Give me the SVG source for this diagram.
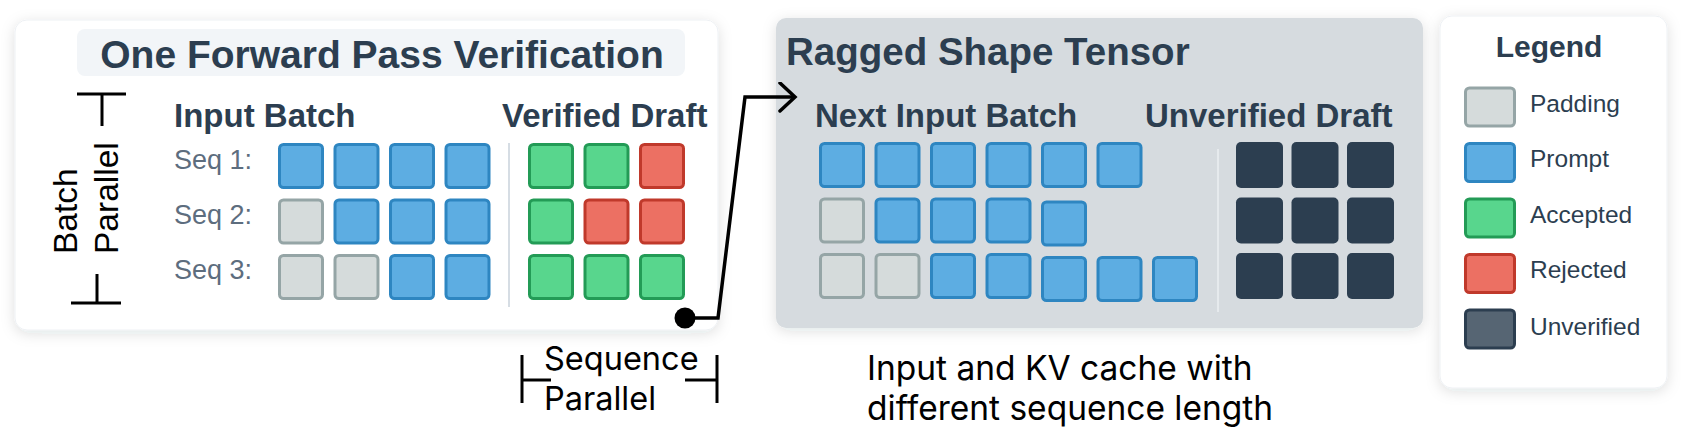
<svg xmlns="http://www.w3.org/2000/svg" width="1681" height="429" viewBox="0 0 1681 429">
<defs>
<filter id="sh" x="-10%" y="-10%" width="120%" height="130%">
<feDropShadow dx="0" dy="3" stdDeviation="7" flood-color="#1c2833" flood-opacity="0.13"/>
</filter>
<marker id="arr" markerUnits="userSpaceOnUse" markerWidth="22" markerHeight="34" refX="17" refY="15" orient="auto" viewBox="0 0 22 34">
<path d="M2,1 L17,15 L2,29" fill="none" stroke="#000" stroke-width="3.5" stroke-linecap="round" stroke-linejoin="miter"/>
</marker>
</defs>
<style>
.t{font-family:"Liberation Sans",Arial,sans-serif;fill:#2c3e50}
.b{font-weight:bold}
.seq{font-family:"Liberation Sans",Arial,sans-serif;fill:#5d6d7e;font-size:27px}
.lg{font-family:"Liberation Sans",Arial,sans-serif;fill:#2c3e50;font-size:24.5px}
.ann{font-family:Inter,"Liberation Sans",sans-serif;fill:#000;font-size:32.5px}
.cap{font-family:Inter,"Liberation Sans",sans-serif;fill:#000;font-size:33.5px}
.vt{font-family:"Liberation Sans",Arial,sans-serif;fill:#000;font-size:33.5px}
.pad{fill:#d5dbdb;stroke:#95a5a6;stroke-width:3}
.pr{fill:#5dade2;stroke:#2e86c1;stroke-width:3}
.ac{fill:#58d68d;stroke:#239b56;stroke-width:3}
.rj{fill:#ec7063;stroke:#c0392b;stroke-width:3}
.uv{fill:#2c3e50}
.uvl{fill:#566573;stroke:#2c3e50;stroke-width:3}
.ln{stroke:#000;stroke-width:3;fill:none}
</style>

<g id="panel-verification">
<rect x="15" y="20" width="703" height="310" rx="12" fill="#ffffff" stroke="#eef1f4" stroke-width="1" filter="url(#sh)"/>
<rect x="77" y="29" width="608" height="47" rx="8" fill="#f2f5f8"/>
<text class="t b" x="382" y="68" font-size="39" text-anchor="middle">One Forward Pass Verification</text>
<text class="t b" x="174" y="127" font-size="33">Input Batch</text>
<text class="t b" x="502" y="127" font-size="33">Verified Draft</text>
<text class="seq" x="174" y="169">Seq 1:</text>
<text class="seq" x="174" y="224">Seq 2:</text>
<text class="seq" x="174" y="279">Seq 3:</text>
<line x1="509" y1="143" x2="509" y2="307" stroke="#d6dde4" stroke-width="2"/>
<g id="input-batch">
<rect class="pr" x="279.5" y="144.5" width="43" height="43" rx="4"/>
<rect class="pr" x="335" y="144.5" width="43" height="43" rx="4"/>
<rect class="pr" x="390.5" y="144.5" width="43" height="43" rx="4"/>
<rect class="pr" x="446" y="144.5" width="43" height="43" rx="4"/>
<rect class="pad" x="279.5" y="200" width="43" height="43" rx="4"/>
<rect class="pr" x="335" y="200" width="43" height="43" rx="4"/>
<rect class="pr" x="390.5" y="200" width="43" height="43" rx="4"/>
<rect class="pr" x="446" y="200" width="43" height="43" rx="4"/>
<rect class="pad" x="279.5" y="255.5" width="43" height="43" rx="4"/>
<rect class="pad" x="335" y="255.5" width="43" height="43" rx="4"/>
<rect class="pr" x="390.5" y="255.5" width="43" height="43" rx="4"/>
<rect class="pr" x="446" y="255.5" width="43" height="43" rx="4"/>
</g>
<g id="verified-draft">
<rect class="ac" x="529.5" y="144.5" width="43" height="43" rx="4"/>
<rect class="ac" x="585" y="144.5" width="43" height="43" rx="4"/>
<rect class="rj" x="640.5" y="144.5" width="43" height="43" rx="4"/>
<rect class="ac" x="529.5" y="200" width="43" height="43" rx="4"/>
<rect class="rj" x="585" y="200" width="43" height="43" rx="4"/>
<rect class="rj" x="640.5" y="200" width="43" height="43" rx="4"/>
<rect class="ac" x="529.5" y="255.5" width="43" height="43" rx="4"/>
<rect class="ac" x="585" y="255.5" width="43" height="43" rx="4"/>
<rect class="ac" x="640.5" y="255.5" width="43" height="43" rx="4"/>
</g>
</g>

<g id="panel-ragged">
<rect x="776" y="18" width="647" height="310" rx="10" fill="#d6dbdf" filter="url(#sh)"/>
<text class="t b" x="786" y="65" font-size="38.5">Ragged Shape Tensor</text>
<text class="t b" x="815" y="127" font-size="33">Next Input Batch</text>
<text class="t b" x="1145" y="127" font-size="33">Unverified Draft</text>
<line x1="1218" y1="149" x2="1218" y2="312" stroke="#e6eaed" stroke-width="2"/>
<g id="next-input-batch">
<rect class="pr" x="820.5" y="143.5" width="43" height="43" rx="4"/>
<rect class="pr" x="876" y="143.5" width="43" height="43" rx="4"/>
<rect class="pr" x="931.5" y="143.5" width="43" height="43" rx="4"/>
<rect class="pr" x="987" y="143.5" width="43" height="43" rx="4"/>
<rect class="pr" x="1042.5" y="143.5" width="43" height="43" rx="4"/>
<rect class="pr" x="1098" y="143.5" width="43" height="43" rx="4"/>
<rect class="pad" x="820.5" y="199" width="43" height="43" rx="4" fill="#d8dcdf"/>
<rect class="pr" x="876" y="199" width="43" height="43" rx="4"/>
<rect class="pr" x="931.5" y="199" width="43" height="43" rx="4"/>
<rect class="pr" x="987" y="199" width="43" height="43" rx="4"/>
<rect class="pr" x="1042.5" y="202" width="43" height="43" rx="4"/>
<rect class="pad" x="820.5" y="254.5" width="43" height="43" rx="4"/>
<rect class="pad" x="876" y="254.5" width="43" height="43" rx="4"/>
<rect class="pr" x="931.5" y="254.5" width="43" height="43" rx="4"/>
<rect class="pr" x="987" y="254.5" width="43" height="43" rx="4"/>
<rect class="pr" x="1042.5" y="257.5" width="43" height="43" rx="4"/>
<rect class="pr" x="1098" y="257.5" width="43" height="43" rx="4"/>
<rect class="pr" x="1153.5" y="257.5" width="43" height="43" rx="4"/>
</g>
<g id="unverified-draft">
<rect class="uv" x="1236" y="142" width="47" height="46" rx="5"/>
<rect class="uv" x="1291.5" y="142" width="47" height="46" rx="5"/>
<rect class="uv" x="1347" y="142" width="47" height="46" rx="5"/>
<rect class="uv" x="1236" y="197.5" width="47" height="46" rx="5"/>
<rect class="uv" x="1291.5" y="197.5" width="47" height="46" rx="5"/>
<rect class="uv" x="1347" y="197.5" width="47" height="46" rx="5"/>
<rect class="uv" x="1236" y="253" width="47" height="46" rx="5"/>
<rect class="uv" x="1291.5" y="253" width="47" height="46" rx="5"/>
<rect class="uv" x="1347" y="253" width="47" height="46" rx="5"/>
</g>
</g>

<g id="legend">
<rect x="1440" y="16" width="227" height="372" rx="12" fill="#ffffff" stroke="#eef1f4" stroke-width="1" filter="url(#sh)"/>
<text class="t b" x="1549" y="57" font-size="30" text-anchor="middle">Legend</text>
<rect class="pad" x="1465.5" y="88" width="49" height="38" rx="4"/>
<text class="lg" x="1530" y="112">Padding</text>
<rect class="pr" x="1465.5" y="143.5" width="49" height="38" rx="4"/>
<text class="lg" x="1530" y="167">Prompt</text>
<rect class="ac" x="1465.5" y="199" width="49" height="38" rx="4"/>
<text class="lg" x="1530" y="223">Accepted</text>
<rect class="rj" x="1465.5" y="254.5" width="49" height="38" rx="4"/>
<text class="lg" x="1530" y="278">Rejected</text>
<rect class="uvl" x="1465.5" y="310" width="49" height="38" rx="4"/>
<text class="lg" x="1530" y="335">Unverified</text>
</g>

<g id="batch-parallel">
<line class="ln" x1="77" y1="94" x2="126" y2="94"/>
<line class="ln" x1="102" y1="94" x2="102" y2="126"/>
<line class="ln" x1="71" y1="303" x2="121" y2="303"/>
<line class="ln" x1="97" y1="274" x2="97" y2="303"/>
<text class="vt" transform="translate(77,254) rotate(-90)">Batch</text>
<text class="vt" transform="translate(118,254) rotate(-90)">Parallel</text>
</g>

<g id="sequence-parallel">
<line class="ln" x1="522" y1="355" x2="522" y2="403"/>
<line class="ln" x1="522" y1="380" x2="551" y2="380"/>
<line class="ln" x1="717" y1="355" x2="717" y2="403"/>
<line class="ln" x1="685" y1="380" x2="717" y2="380"/>
<text class="ann" x="544" y="370">Sequence</text>
<text class="ann" x="544" y="410">Parallel</text>
</g>

<g id="caption">
<text class="cap" x="867" y="380">Input and KV cache with</text>
<text class="cap" x="867" y="420">different sequence length</text>
</g>

<g id="connectors">
<path d="M685,318 L718,318 L745,97 L795,97" fill="none" stroke="#000" stroke-width="3.5" stroke-linejoin="miter" marker-end="url(#arr)"/>
<circle cx="685" cy="318" r="10.5" fill="#000"/>
</g>
</svg>
